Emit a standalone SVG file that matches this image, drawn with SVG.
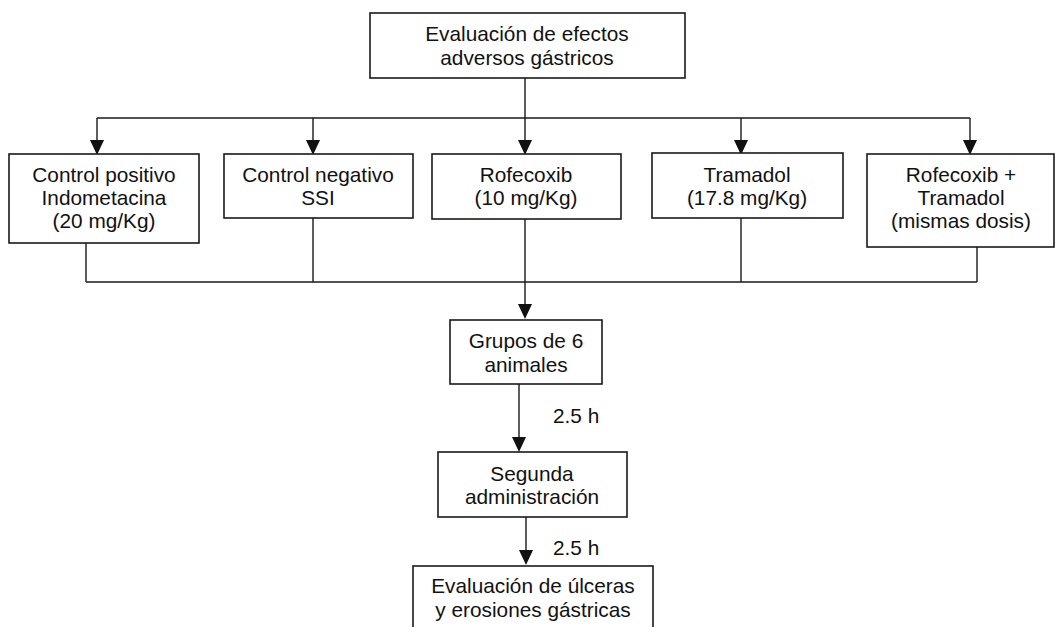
<svg xmlns="http://www.w3.org/2000/svg" width="1055" height="627" viewBox="0 0 1055 627">
<defs>
<style>
.box{fill:#fff;stroke:#1a1a1a;stroke-width:1.6}
.ln{fill:none;stroke:#1a1a1a;stroke-width:1.4}
.ah{fill:#111}
text{font-family:"Liberation Sans",Arial,sans-serif;font-size:20.8px;fill:#111;text-anchor:middle}
.lbl{text-anchor:start}
</style>
</defs>
<rect width="1055" height="627" fill="#fff"/>
<g id="connectors">
<path class="ln" d="M525 78 V118 M97 118 H970 M97 118 V142 M313 118 V142 M525 118 V142 M741 118 V142 M970 118 V142"/>
<path class="ln" d="M86 243 V282 M313 218 V282 M525 219 V306 M741 218 V282 M977 247 V282 M86 282 H977"/>
<path class="ln" stroke-width="2" d="M519 384 V440 M526 517 V552"/>
<polygon class="ah" points="90,140 104,140 97,155"/>
<polygon class="ah" points="306,140 320,140 313,155"/>
<polygon class="ah" points="518,140 532,140 525,155"/>
<polygon class="ah" points="734,140 748,140 741,155"/>
<polygon class="ah" points="963,140 977,140 970,155"/>
<polygon class="ah" points="518,304 532,304 525,319"/>
<polygon class="ah" points="512,437 526,437 519,452"/>
<polygon class="ah" points="519,550 533,550 526,565"/>
<text class="lbl" x="553" y="423">2.5 h</text>
<text class="lbl" x="553" y="555">2.5 h</text>
</g>
<g id="n-top">
<rect class="box" x="370" y="13" width="315" height="65"/>
<text x="527" y="41">Evaluación de efectos</text>
<text x="527" y="65">adversos gástricos</text>
</g>
<g id="n-cpos">
<rect class="box" x="9" y="154" width="190" height="89"/>
<text x="104" y="182">Control positivo</text>
<text x="104" y="205">Indometacina</text>
<text x="104" y="228">(20 mg/Kg)</text>
</g>
<g id="n-cneg">
<rect class="box" x="224" y="154" width="189" height="64"/>
<text x="318" y="182">Control negativo</text>
<text x="318" y="205">SSI</text>
</g>
<g id="n-rofe">
<rect class="box" x="432" y="154" width="189" height="65"/>
<text x="526" y="182">Rofecoxib</text>
<text x="526" y="205">(10 mg/Kg)</text>
</g>
<g id="n-tram">
<rect class="box" x="652" y="153" width="191" height="65"/>
<text x="747" y="182">Tramadol</text>
<text x="747" y="205">(17.8 mg/Kg)</text>
</g>
<g id="n-combo">
<rect class="box" x="867" y="154" width="187" height="93"/>
<text x="961" y="182">Rofecoxib +</text>
<text x="961" y="205">Tramadol</text>
<text x="961" y="228">(mismas dosis)</text>
</g>
<g id="n-grupos">
<rect class="box" x="450" y="320" width="152" height="64"/>
<text x="526" y="348">Grupos de 6</text>
<text x="526" y="372">animales</text>
</g>
<g id="n-segunda">
<rect class="box" x="438" y="452" width="189" height="65"/>
<text x="532" y="481">Segunda</text>
<text x="532" y="504">administración</text>
</g>
<g id="n-eval">
<rect class="box" x="413" y="566" width="240" height="70"/>
<text x="533" y="593">Evaluación de úlceras</text>
<text x="533" y="617">y erosiones gástricas</text>
</g>
</svg>
